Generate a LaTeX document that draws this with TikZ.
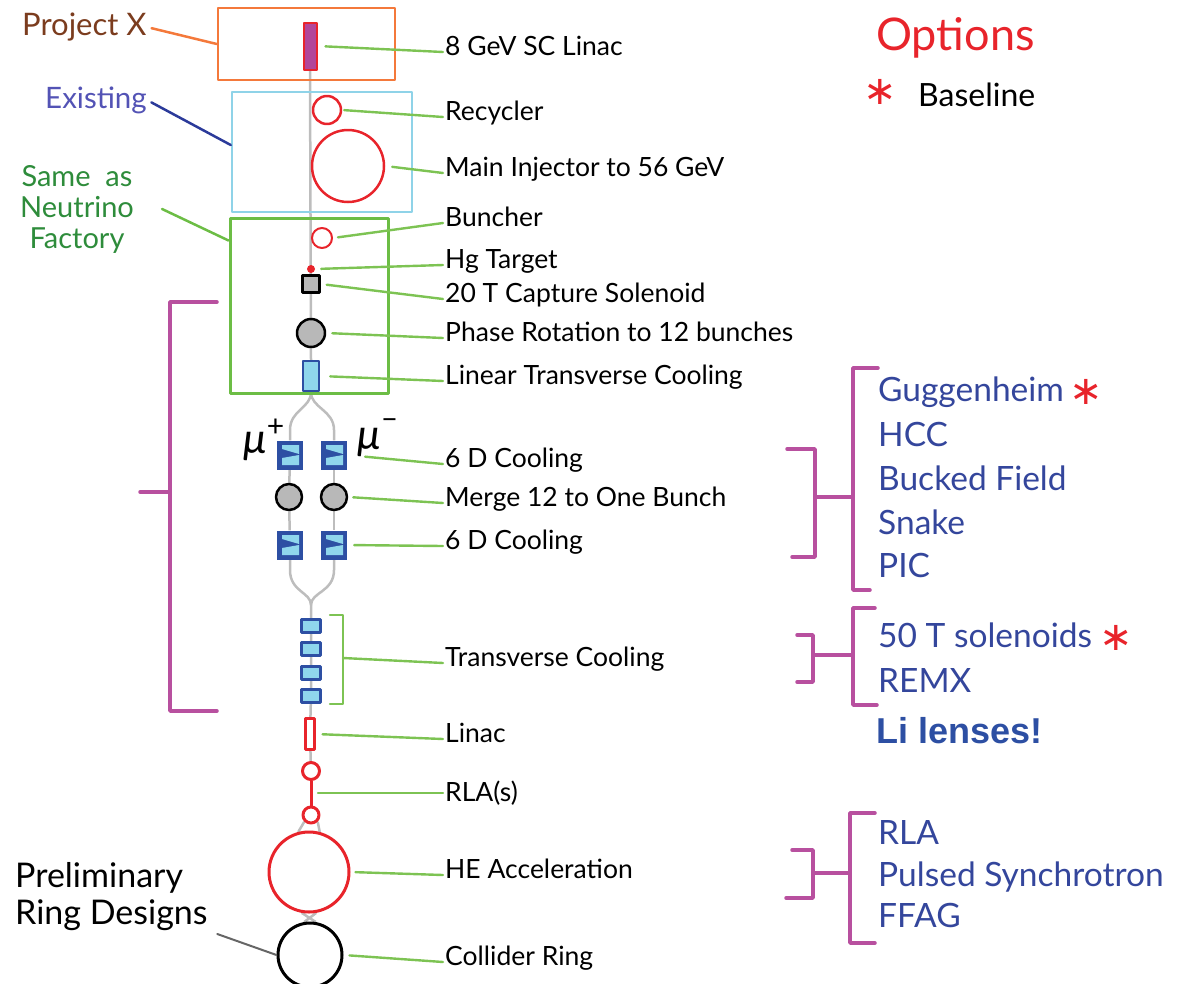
\documentclass[tikz,border=0pt]{standalone}
\usepackage{fontspec}
\setmainfont{Lato}
\newfontfamily\lifont{Liberation Sans}
\newfontfamily\symfont{DejaVu Sans}
\usetikzlibrary{positioning,backgrounds}

\definecolor{pxorange}{HTML}{F4793B}
\definecolor{exblue}{HTML}{8FD3E8}
\definecolor{nfgreen}{HTML}{6CBD45}
\definecolor{leadgreen}{HTML}{7DC353}
\definecolor{optmag}{HTML}{B8509F}
\definecolor{ringred}{HTML}{E8242B}
\definecolor{linacmag}{HTML}{B2469A}
\definecolor{cooldark}{HTML}{2D4FA3}
\definecolor{coollight}{HTML}{8FD6EC}
\definecolor{optblue}{HTML}{34469C}
\definecolor{beamgray}{HTML}{BDBDBD}
\definecolor{txtbrown}{HTML}{7B3C1E}
\definecolor{txtexist}{HTML}{5353B5}
\definecolor{leadblue}{HTML}{2B3A9A}
\definecolor{txtgreen}{HTML}{2E8C3B}

\tikzset{
  lbl/.style={anchor=west, inner sep=2pt, yshift=-5pt, font=\fontsize{26.5}{30}\selectfont, text height=1.5ex, text depth=0pt},
  optlbl/.style={anchor=west, inner sep=0pt, yshift=-6pt, text=optblue, font=\fontsize{33.5}{38}\selectfont, text height=1.5ex, text depth=0pt},
  lead/.style={draw=leadgreen, line width=2.4pt},
  bra/.style={draw=optmag, line width=3.5pt},
  beam/.style={draw=beamgray, line width=2.5pt},
  ring/.style={circle, draw=ringred, line width=2.5pt, inner sep=0pt},
  coolbox/.style={rectangle, draw=cooldark, fill=coollight, line width=2.5pt, inner sep=0pt},
  sixd/.style={rectangle, fill=cooldark, minimum width=26pt, minimum height=29pt, inner sep=0pt},
  gcirc/.style={circle, draw=black, fill=black!28, line width=2.5pt, inner sep=0pt},
  star/.style={text=ringred, inner sep=0pt, font=\symfont\fontsize{40}{40}\selectfont},
  mulbl/.style={inner sep=0pt, font=\fontsize{42}{42}\selectfont\itshape}
}

\begin{document}
\begin{tikzpicture}[x=1pt, y=-1pt, line join=round, line cap=round]
  \useasboundingbox (0,0) rectangle (1186,983);
  % boxes
  \node[draw=pxorange, line width=2.5pt, minimum width=177pt, minimum height=72pt] (pxbox) at (306.5,44) {};
  \node[draw=exblue, line width=2.5pt, minimum width=180pt, minimum height=120pt] (exbox) at (322,152) {};
  \node[draw=nfgreen, line width=3pt, minimum width=158pt, minimum height=175pt] (nfbox) at (309,305.5) {};
  % front end
  \node[rectangle, draw=ringred, fill=linacmag, line width=2pt, minimum width=13pt, minimum height=47pt, inner sep=0pt] (sclinac) at (310,46) {};
  \node[ring, minimum size=28pt] (rec) at (327,110) {};
  \node[ring, minimum size=72pt] (mi) at (348,166) {};
  \node[ring, line width=2pt, minimum size=20pt] (bun) at (322,238) {};
  \node[circle, fill=ringred, minimum size=8pt, inner sep=0pt] (hg) at (311,269) {};
  \node[rectangle, draw=black, fill=black!28, line width=2.5pt, minimum size=17pt, inner sep=0pt] (cap) at (311,284) {};
  \node[gcirc, minimum size=28pt] (ph) at (311,333) {};
  \node[coolbox, minimum width=16pt, minimum height=30pt] (ltc) at (311,376) {};
  % two muon lines
  \foreach \nm/\xx/\yy in {ca/290/455, cb/334/455, cc/290/545, cd/334/545} {
    \node[sixd] (\nm) at (\xx,\yy) {};
    \fill[coollight] ([shift={(-8,-10)}]\nm.center) -- ++(17,0) -- ++(0,9) -- ++(-17,-5) -- cycle;
    \fill[coollight] ([shift={(-8,3)}]\nm.center) -- ++(17,-3) -- ++(0,10) -- ++(-17,0) -- cycle;
  }
  \node[gcirc, minimum size=26pt] (ma) at (289,497) {};
  \node[gcirc, minimum size=26pt] (mb) at (334,497) {};
  \node[mulbl] (mup) at (264,440) {μ\raisebox{0.42em}{\fontsize{30}{30}\selectfont\upshape +}};
  \node[mulbl] (mum) at (378,438) {μ\raisebox{0.5em}{\fontsize{30}{30}\selectfont\upshape –}};
  \coordinate (joinb) at (311,605);
  % transverse cooling
  \foreach \i/\yy in {1/626, 2/649, 3/673, 4/696}
    \node[coolbox, line width=3pt, minimum width=19pt, minimum height=13pt] (tc\i) at (311,\yy) {};
  \node[rectangle, draw=ringred, fill=white, line width=2.2pt, minimum width=9pt, minimum height=31pt, inner sep=0pt] (lin) at (310,734) {};
  \node[ring, line width=3pt, minimum size=17pt] (rla1) at (311,771) {};
  \node[ring, line width=3pt, minimum size=16pt] (rla2) at (311,815) {};
  \coordinate (rlamid) at (311,793);
  \node[ring, line width=3pt, minimum size=80pt] (he) at (309,872) {};
  \node[circle, draw=black, line width=3pt, minimum size=64pt, inner sep=0pt] (coll) at (310,955) {};
  \begin{scope}[on background layer]
    \draw[beam] (sclinac.south) -- (ltc.north);
    \draw[beam] (ltc.south) .. controls (311,408) and (290,410) .. (290,430) -- (ca.north);
    \draw[beam] (ltc.south) .. controls (311,408) and (334,410) .. (334,430) -- (cb.north);
    \draw[beam] (ca) -- (ma) -- (cc);
    \draw[beam] (cb) -- (mb) -- (cd);
    \draw[beam] (cc.south) -- (290,570) .. controls (290,592) and (311,592) .. (joinb);
    \draw[beam] (cd.south) -- (334,570) .. controls (334,592) and (311,592) .. (joinb);
    \draw[beam] (joinb) -- (tc1) -- (tc4) -- (lin) -- (rla1);
    \draw[beam] (rla2.south west) -- (he.105);
    \draw[beam] (rla2.south east) -- (he.75);
    \draw[beam] (he.-100) -- (coll.80);
    \draw[beam] (he.-80) -- (coll.100);
  \end{scope}
  \draw[ringred, line width=3pt] (rla1) -- (rla2);
  % labels on the right of the line
  \foreach \nm/\yy/\txt in {l1/47/8 GeV SC Linac, l2/112/Recycler, l3/168/Main Injector to 56 GeV,
      l4/218/Buncher, l5/260/Hg Target, l6/294/20 T Capture Solenoid, l7/333/Phase Rotation to 12 bunches,
      l8/376/Linear Transverse Cooling, l9/459/6 D Cooling, l10/498/Merge 12 to One Bunch,
      l11/541/6 D Cooling, l12/658/Transverse Cooling, l13/734/Linac, l14/793/RLA(s),
      l15/870/HE Acceleration, l16/957/Collider Ring}
    \node[lbl] (\nm) at (443,\yy) {\txt};
  \foreach \a/\b/\s in {sclinac/l1/8, rec/l2/2, mi/l3/7, bun/l4/5, hg/l5/6, cap/l6/6, ph/l7/6, ltc/l8/10,
      cb/l9/18, mb/l10/5, cd/l11/7, lin/l13/7, he/l15/5, coll/l16/6}
    \draw[lead, shorten <=\s pt] (\a.east) -- (\b.west);
  \draw[lead, shorten <=7pt] (rlamid) -- (rlamid -| l14.west);
  \draw[lead] (330,615) -- (343,615) -- (343,704) -- (330,704);
  \draw[lead] (343,658) -- (l12.west);
  % left side
  \node[text=txtbrown, font=\fontsize{31}{36}\selectfont, anchor=west, inner sep=0pt] (pxlbl) at (22,27) {Project X};
  \node[text=txtexist, font=\fontsize{29.5}{34}\selectfont, anchor=west, inner sep=0pt] (exlbl) at (45,100) {Existing};
  \node[text=txtgreen, font=\fontsize{29}{31}\selectfont, align=center, inner sep=0pt] (nflbl) at (77,209) {Same\ \ as\\Neutrino\\Factory};
  \node[font=\fontsize{34}{37}\selectfont, align=left, anchor=north west, inner sep=0pt] (rdlbl) at (15,862) {Preliminary\\Ring Designs};
  \draw[pxorange, line width=2.5pt, shorten <=5pt] (pxlbl.east) -- (pxbox.west);
  \draw[leadblue, line width=2.5pt, shorten <=5pt] (exlbl.east) -- ([yshift=7pt]exbox.west);
  \draw[nfgreen, line width=2.5pt] ([xshift=28pt]nflbl.east) -- ([yshift=65pt]nfbox.west);
  \draw[black!60, line width=2pt, shorten <=10pt] (rdlbl.south east) -- (coll.west);
  \draw[bra] (217,302) -- (170,302) -- (170,711) -- (217,711);
  \draw[bra] (170,492) -- (140,492);
  % options
  \node[text=ringred, font=\fontsize{45}{48}\selectfont, anchor=west, inner sep=0pt] (opts) at (876,38) {Options};
  \node[star] (bstar) at (880,92) {∗};
  \node[font=\fontsize{32}{36}\selectfont, anchor=west, inner sep=0pt] (base) at (918,95) {Baseline};
  \foreach \nm/\yy/\txt in {o1/392/Guggenheim, o2/437/HCC, o3/481/Bucked Field, o4/525/Snake, o5/568/PIC,
      o6/638/50 T solenoids, o7/683/REMX, o8/835/RLA, o9/877/Pulsed Synchrotron, o10/918/FFAG}
    \node[optlbl] (\nm) at (878,\yy) {\txt};
  \node[star] (s1) at (1086,392) {∗};
  \node[star] (s2) at (1116,638) {∗};
  \node[text=cooldark, font=\lifont\bfseries\fontsize{36}{40}\selectfont, anchor=west, inner sep=0pt] (li) at (876,731) {Li lenses!};
  \draw[bra] (878,368) -- (853,368) -- (853,590) -- (870,590);
  \draw[bra] (853,497) -- (815,497);
  \draw[bra] (787,449) -- (815,449) -- (815,557) -- (792,557);
  \draw[bra] (875,608) -- (853,608) -- (853,705) -- (877,705);
  \draw[bra] (853,655) -- (815,655);
  \draw[bra] (797,635) -- (813,635) -- (813,682) -- (797,682);
  \draw[bra] (875,813) -- (850,813) -- (850,943) -- (875,943);
  \draw[bra] (850,873) -- (815,873);
  \draw[bra] (792,850) -- (813,850) -- (813,898) -- (786,898);
\end{tikzpicture}
\end{document}
